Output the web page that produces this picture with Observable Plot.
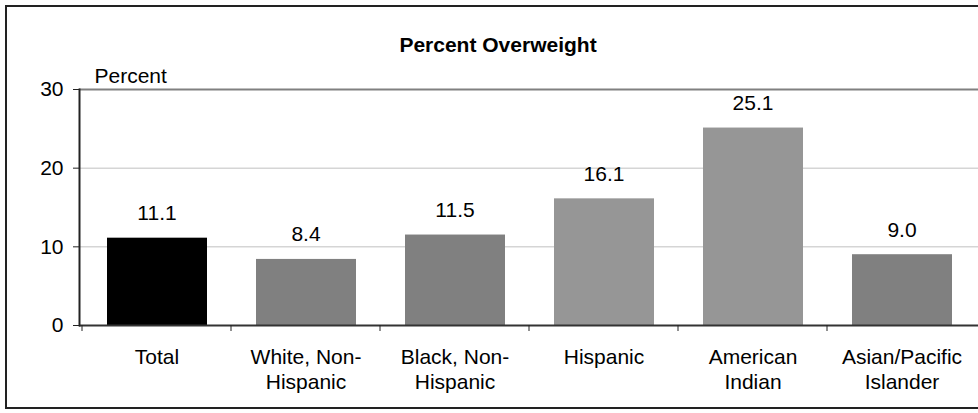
<!DOCTYPE html>
<html>
<head>
<meta charset="utf-8">
<script src="https://cdn.jsdelivr.net/npm/d3@7"></script>
<script src="https://cdn.jsdelivr.net/npm/@observablehq/plot@0.6"></script>
<style>
  body { margin: 0; background: #fff; }
  #wrap { position: relative; width: 978px; height: 413px; overflow: hidden; }
  #border { position: absolute; left: 5px; top: 5px; width: 990px; height: 404px; border: 2px solid #222; box-sizing: border-box; pointer-events: none; }
  svg { font-family: "Liberation Sans", Arial, sans-serif; }
</style>
</head>
<body>
<div id="wrap"><div id="border"></div></div>
<script>
const categories = ["Total", "White, Non-Hispanic", "Black, Non-Hispanic", "Hispanic", "American Indian", "Asian/Pacific Islander"];
const tickLabels = ["Total", "White, Non-\nHispanic", "Black, Non-\nHispanic", "Hispanic", "American\nIndian", "Asian/Pacific\nIslander"];
const values = [11.1, 8.4, 11.5, 16.1, 25.1, 9.0];
const barColors = ["#000000", "#808080", "#808080", "#969696", "#969696", "#808080"];
const yTicks = [0, 10, 20, 30];
const title = "Percent Overweight";
const yLabel = "Percent";

const data = categories.map((c, i) => ({cat: c, label: tickLabels[i], value: values[i]}));

const chart = Plot.plot({
  width: 978,
  height: 413,
  marginLeft: 79,
  marginRight: 0,
  marginTop: 89,
  marginBottom: 88,
  style: {fontFamily: "'Liberation Sans', Arial, sans-serif", background: "transparent"},
  x: {domain: categories, padding: 0, axis: null},
  y: {domain: [0, 30], axis: null},
  color: {domain: categories, range: barColors},
  marks: [
    Plot.gridY([10, 20], {stroke: "#c0c0c0", strokeOpacity: 1}),
    Plot.ruleY([30], {stroke: "#808080", strokeWidth: 2}),
    Plot.barY(data, {x: "cat", y: "value", fill: "cat", insetLeft: 25, insetRight: 24}),
    Plot.ruleY([0], {stroke: "#333", strokeWidth: 2}),
    Plot.frame({anchor: "left", stroke: "#222", strokeWidth: 2}),
    Plot.ruleX(categories, {x: d => d, dx: -75, stroke: "#222", insetTop: 236, insetBottom: -6}),
    Plot.axisY({ticks: yTicks, tickSize: 6, tickPadding: 10, fontSize: 21, stroke: "#222", color: "#000", label: null}),
    Plot.text(data, {x: "cat", y: "value", text: d => d.value.toFixed(1), lineAnchor: "bottom", dy: -18, fontSize: 21, fill: "#000"}),
    Plot.text(data, {x: "cat", text: "label", frameAnchor: "bottom", lineAnchor: "top", dy: 21, lineHeight: 1.19, fontSize: 21, fill: "#000"}),
    Plot.text([title], {frameAnchor: "top", lineAnchor: "bottom", dx: -31, dy: -38, fontSize: 21, fontWeight: "bold", fill: "#000"}),
    Plot.text([yLabel], {frameAnchor: "top-left", textAnchor: "start", lineAnchor: "bottom", dx: 15, dy: -7, fontSize: 21, fill: "#000"})
  ]
});
document.getElementById("wrap").prepend(chart);
</script>
</body>
</html>
